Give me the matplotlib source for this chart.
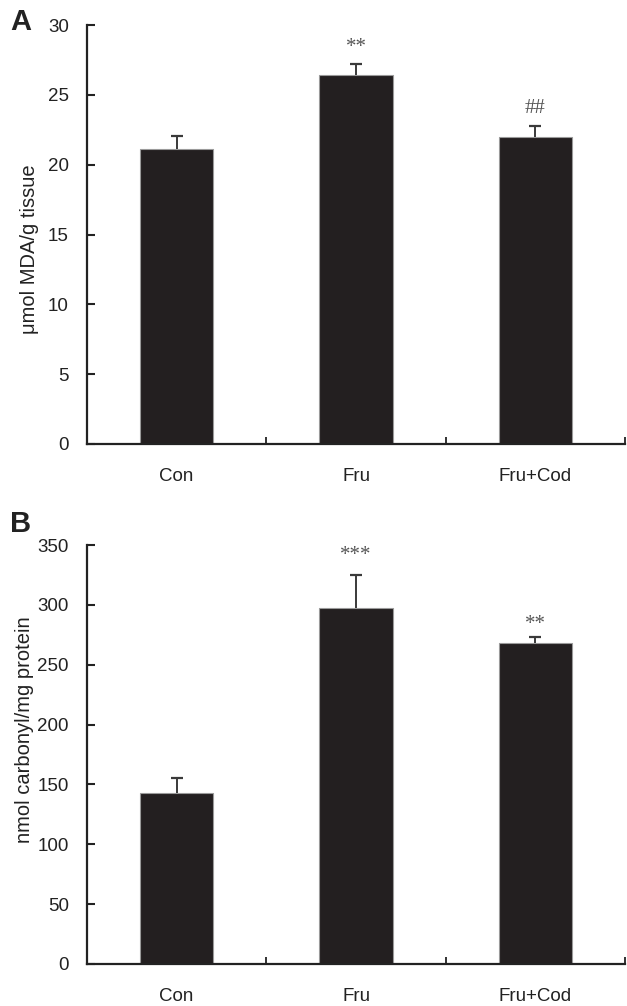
import numpy as np
import matplotlib
matplotlib.use("Agg")
import matplotlib.pyplot as plt

plt.rcParams['font.family'] = ['Liberation Sans', 'DejaVu Sans']

# datos
grupos = ["Con", "Fru", "Fru+Cod"]
mda = [21.1, 26.45, 21.95]
mda_err = [0.95, 0.75, 0.8]
mda_sig = ["", "**", "##"]
carbonyl = [142.5, 297.5, 268.0]
carbonyl_err = [13.0, 27.5, 5.0]
carbonyl_sig = ["", "***", "**"]

W, H = 627, 1006
fig = plt.figure(figsize=(W / 100, H / 100), dpi=100)

color_barra = "#231f20"


def panel(top, bottom, valores, errores, sig, ymax, paso, ylabel, etiqueta, sig_y, label_x, label_y, letra_y):
    ax = fig.add_axes([87 / W, 1 - bottom / H, (625 - 87) / W, (bottom - top) / H])
    x = np.arange(len(grupos)) + 0.5
    valores = np.array(valores)
    errores = np.array(errores)
    ax.bar(x, valores, width=0.41, color=color_barra, edgecolor="#9a9a9a", linewidth=0.8, zorder=2)
    # barra de error solo hacia arriba
    ax.vlines(x, valores, valores + errores, color="#3a3a3a", linewidth=1.4, zorder=3)
    ax.plot(x, valores + errores, ls="none", marker="_", markersize=9, mew=1.6,
            color="#3a3a3a", zorder=3)
    for xi, s, yi in zip(x, sig, sig_y):
        if s:
            ax.text(xi, yi, s, ha="center", va="center", fontsize=15,
                    family=["Liberation Serif", "DejaVu Serif"], color="#555555")
    ax.set_xlim(0, 3)
    ax.set_ylim(0, ymax)
    ax.set_yticks(np.arange(0, ymax + 1, paso))
    ax.set_xticks([0, 1, 2, 3])
    ax.set_xticklabels([])
    ax.set_xticks(x, minor=True)
    ax.set_xticklabels(grupos, minor=True, fontsize=13.5, color="#222222")
    ax.tick_params(axis="x", which="minor", length=0, pad=17)
    ax.tick_params(axis="x", which="major", direction="in", length=5, width=1.3, color="#222222")
    ax.tick_params(axis="y", direction="in", length=6, width=1.5, pad=13,
                   labelsize=13.5, color="#222222", labelcolor="#222222")
    for lado in ["top", "right"]:
        ax.spines[lado].set_visible(False)
    for lado in ["left", "bottom"]:
        ax.spines[lado].set_linewidth(1.6)
        ax.spines[lado].set_color("#222222")
    ax.set_ylabel(ylabel, fontsize=14.5, color="#222222")
    ax.yaxis.set_label_coords(label_x / 538, label_y)
    fig.text(10 / W, 1 - letra_y / H, etiqueta, fontsize=21, fontweight="bold",
             color="#222222", va="center", ha="left")
    return ax


panel(25, 444, mda, mda_err, mda_sig, 30, 5, "μmol MDA/g tissue", "A",
      [28.4, 28.4, 24.05], -48, 0.465, 22)
panel(545, 964, carbonyl, carbonyl_err, carbonyl_sig, 350, 50, "nmol carbonyl/mg protein", "B",
      [341, 341, 284], -53, 0.56, 524)

fig.savefig("out.png", dpi=100)
